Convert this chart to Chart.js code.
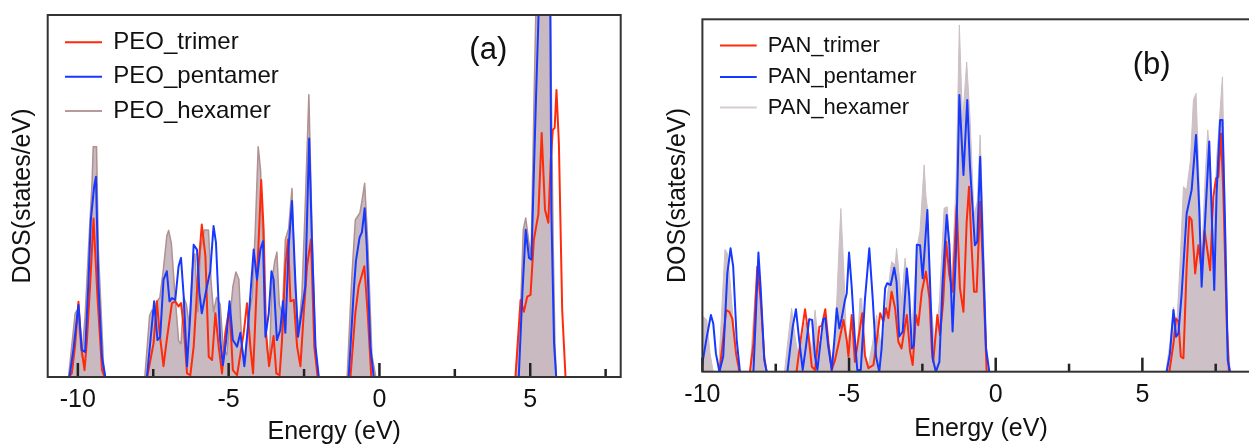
<!DOCTYPE html>
<html>
<head>
<meta charset="utf-8">
<script src="https://cdn.jsdelivr.net/npm/chart.js@4/dist/chart.umd.min.js"></script>
<style>
html,body{margin:0;padding:0;background:#fff;overflow:hidden;width:1249px;height:448px;}
#wa{position:absolute;left:0;top:0;width:640px;height:448px;}
#wb{position:absolute;left:640px;top:0;width:640px;height:448px;}
canvas{display:block;}
</style>
</head>
<body>
<div id="wa"><canvas id="ca" width="640" height="448"></canvas></div>
<div id="wb"><canvas id="cb" width="640" height="448"></canvas></div>
<script>
// ---------------- DATA: [energy (eV), DOS (arb. units)]; null = gap ----------------
const peoLabels = ['PEO_trimer', 'PEO_pentamer', 'PEO_hexamer'];
const panLabels = ['PAN_trimer', 'PAN_pentamer', 'PAN_hexamer'];
const tickLabelsEnergy = [-10, -5, 0, 5];

const peoTrimer = [
  [-10.30,0],[-10.20,1],[-10.09,8.8],[-9.98,20.8],[-9.88,8],[-9.78,1.9],[-9.70,10],[-9.59,25.9],[-9.48,43.8],[-9.35,22.2],[-9.20,2],[-9.12,0],
  [-8.5,null],
  [-7.70,0],[-7.49,9.3],[-7.38,20.9],[-7.29,12.2],[-7.16,3],[-7.05,10.4],[-6.88,20.4],[-6.77,20.9],[-6.66,19.5],[-6.58,20.4],[-6.49,13.9],[-6.38,1],[-6.27,0.5],[-6.16,8.4],[-6.00,30.6],[-5.89,42.1],[-5.77,33.3],[-5.66,5.6],[-5.55,4.7],[-5.44,17.6],[-5.33,8.4],[-5.22,1],[-5.11,12.2],[-4.97,19.5],[-4.86,1.9],[-4.72,0.5],[-4.50,12.2],[-4.39,20.4],[-4.28,8.4],[-4.19,1],[-4.06,26.9],[-3.92,54.4],[-3.84,40.6],[-3.76,12.2],[-3.66,3],[-3.51,11.3],[-3.42,1],[-3.31,0.5],[-3.23,10.2],[-3.12,30.6],[-3.03,38],[-2.95,20.9],[-2.84,21.3],[-2.73,8.4],[-2.62,3],[-2.51,17.6],[-2.40,30.6],[-2.27,38],[-2.16,8.4],[-2.05,0],
  [-1.5,null],
  [-0.96,0],[-0.80,17.6],[-0.69,25],[-0.50,30.6],[-0.39,17.6],[-0.27,0],
  [2.0,null],
  [4.51,0],[4.68,21.3],[4.79,18.0],[4.90,22.2],[5.01,22.7],[5.12,37.9],[5.27,45],[5.38,67.4],[5.49,46.2],[5.60,42.6],[5.68,60],[5.75,68.3],[5.81,68.8],[5.87,79.3],[5.95,64.6],[6.06,18.5],[6.17,0]
];

const peoPentamer = [
  [-10.28,0],[-10.15,7.5],[-9.98,19.9],[-9.87,7.5],[-9.76,6.9],[-9.65,25.9],[-9.57,43.4],[-9.46,52.6],[-9.40,55.3],[-9.32,25.9],[-9.20,5.5],[-9.09,0],
  [-8.5,null],
  [-7.71,0],[-7.47,20.9],[-7.36,10.2],[-7.27,11.1],[-7.16,26.9],[-7.05,29.2],[-6.96,20.9],[-6.88,21.8],[-6.77,21.3],[-6.66,30.6],[-6.58,32.9],[-6.49,22.3],[-6.38,3],[-6.27,17.6],[-6.16,36.5],[-6.05,35.2],[-5.97,23.3],[-5.89,17.6],[-5.72,25],[-5.61,29.2],[-5.50,41.7],[-5.42,37.1],[-5.28,10.2],[-5.19,3.3],[-5.08,10.2],[-4.97,20.9],[-4.86,10.2],[-4.72,8.4],[-4.61,12.2],[-4.48,3],[-4.34,15.8],[-4.17,35.2],[-4.06,26.9],[-3.95,35.2],[-3.86,37.5],[-3.78,11.1],[-3.67,17.6],[-3.58,29.2],[-3.51,26.9],[-3.40,10.2],[-3.29,12.9],[-3.20,20.9],[-3.12,12.2],[-3.01,36.1],[-2.90,48.6],[-2.79,26.9],[-2.70,11.1],[-2.57,18.5],[-2.46,25],[-2.33,65.9],[-2.24,38],[-2.12,8.4],[-2.01,0],
  [-1.5,null],
  [-1.02,0],[-0.85,24],[-0.78,32],[-0.66,38.5],[-0.58,40],[-0.49,46.6],[-0.42,36],[-0.30,8.4],[-0.19,0],
  [2.0,null],
  [4.62,0],[4.74,23.2],[4.85,40.7],[4.96,32.9],[5.04,32.4],[5.18,73.8],[5.32,112],[5.66,112],[5.70,46],[5.79,9.3],[5.86,0]
];

const peoHexamer = [
  [-10.31,0],[-10.09,17.6],[-10.02,18.5],[-9.87,5.5],[-9.76,16.7],[-9.65,35],[-9.53,53.5],[-9.49,63.6],[-9.38,63.6],[-9.32,35],[-9.15,3.7],[-9.09,0],
  [-8.5,null],
  [-7.78,0],[-7.62,17],[-7.54,18.5],[-7.47,17],[-7.38,20.8],[-7.28,22],[-7.16,30],[-7.05,39],[-6.99,40.5],[-6.90,37],[-6.80,25],[-6.66,10],[-6.58,9.2],[-6.49,22],[-6.40,20],[-6.30,14],[-6.20,30],[-6.12,34],[-6.02,18],[-5.94,35],[-5.81,40.6],[-5.67,40.6],[-5.58,26],[-5.50,18],[-5.40,22],[-5.28,20.1],[-5.18,8],[-5.06,6.1],[-4.97,15],[-4.86,25],[-4.76,29],[-4.66,27],[-4.56,8],[-4.45,4],[-4.34,17],[-4.22,22],[-4.12,40],[-4.02,63.6],[-3.94,57],[-3.84,30],[-3.74,8],[-3.65,4],[-3.56,27],[-3.47,32],[-3.40,34.5],[-3.32,20],[-3.22,17],[-3.12,38],[-3.01,41],[-2.90,52.1],[-2.80,25],[-2.68,13],[-2.57,23],[-2.47,45],[-2.34,78],[-2.24,42],[-2.12,8],[-2.02,0],
  [-1.5,null],
  [-1.07,0],[-0.92,27],[-0.80,43.4],[-0.65,45.3],[-0.58,48.6],[-0.49,53.5],[-0.38,36],[-0.25,6],[-0.12,0],
  [2.0,null],
  [4.51,0],[4.68,18.5],[4.77,40.7],[4.85,43.9],[4.96,37],[5.03,33.3],[5.12,73.8],[5.22,115],[5.65,115],[5.76,37],[5.82,9],[5.87,0]
];

const panTrimer = [
  [-9.42,0],[-9.31,8],[-9.19,17.5],[-9.08,17.0],[-8.98,15],[-8.85,5],[-8.74,0],
  [-8.55,null],
  [-8.38,0],[-8.26,8],[-8.13,29.8],[-8.01,20],[-7.89,4],[-7.81,0],
  [-7.3,null],
  [-6.79,0],[-6.65,9.0],[-6.50,17.7],[-6.39,10.9],[-6.27,1.4],[-6.16,0.5],[-6.01,12.8],[-5.93,13],[-5.81,17.7],[-5.70,8.1],[-5.59,0.5],[-5.48,3.3],[-5.33,9.0],[-5.19,14.7],[-5.08,9.0],[-5.02,4.3],[-4.91,16.1],[-4.80,2.8],[-4.68,9.5],[-4.55,16.6],[-4.46,4.7],[-4.34,1],[-4.17,1.9],[-4.06,8.5],[-3.94,16.6],[-3.83,14.2],[-3.74,18],[-3.66,15.2],[-3.55,22.7],[-3.43,18],[-3.32,8.5],[-3.21,6.6],[-3.09,13.2],[-3.03,16.1],[-2.92,5.7],[-2.83,1.9],[-2.72,16.1],[-2.64,13.2],[-2.52,22.7],[-2.38,28.4],[-2.26,20.8],[-2.18,6.6],[-2.13,2.8],[-1.99,16.1],[-1.90,10.4],[-1.79,19.9],[-1.69,36.9],[-1.58,27.4],[-1.47,22.7],[-1.33,47.3],[-1.22,23.7],[-1.10,17],[-0.99,42.6],[-0.91,52.5],[-0.82,35],[-0.74,22.7],[-0.65,22.7],[-0.53,48.2],[-0.44,30.3],[-0.31,0],
  [3.0,null],
  [5.92,0],[6.06,8],[6.15,15.1],[6.23,14.2],[6.31,4.3],[6.40,3.8],[6.51,29.8],[6.60,44],[6.68,43],[6.80,27.9],[6.91,35.9],[7.02,28.8],[7.12,40],[7.19,36],[7.31,28.8],[7.42,49.7],[7.51,54.9],[7.59,55.3],[7.68,67.6],[7.76,50.6],[7.88,12.8],[7.95,0]
];

const panPentamer = [
  [-10.05,0],[-9.85,9.9],[-9.71,16.1],[-9.63,13.7],[-9.54,5.2],[-9.42,0],[-9.29,4.3],[-9.15,27.9],[-9.04,35.0],[-8.95,29.8],[-8.83,9.0],[-8.72,0],
  [-8.55,null],
  [-8.26,0],[-8.17,17.5],[-8.09,33.8],[-8.01,23.2],[-7.89,3.3],[-7.81,0],
  [-7.3,null],
  [-7.10,0],[-6.92,12.8],[-6.81,17.7],[-6.70,9.0],[-6.58,0.5],[-6.47,7.1],[-6.36,14.9],[-6.26,14.7],[-6.16,4.3],[-6.08,0.5],[-5.99,7.1],[-5.88,14.9],[-5.81,15.2],[-5.71,7.1],[-5.59,0.5],[-5.51,8.1],[-5.42,18.0],[-5.33,12.3],[-5.25,15.2],[-5.14,20.3],[-5.08,22.2],[-5.00,33.8],[-4.91,24.1],[-4.80,9.0],[-4.72,0.5],[-4.60,0.5],[-4.46,20.3],[-4.31,35.0],[-4.19,20.3],[-4.08,4.3],[-3.97,0],[-3.89,6.6],[-3.77,23.7],[-3.70,25.1],[-3.58,24.6],[-3.46,29.5],[-3.38,25.5],[-3.29,10],[-3.17,11.4],[-3.03,29.3],[-2.95,21.8],[-2.86,6.6],[-2.79,7.6],[-2.69,36],[-2.58,35.9],[-2.49,26.5],[-2.33,45.9],[-2.24,25.5],[-2.15,3.8],[-2.04,0],[-1.92,2.8],[-1.81,25.5],[-1.67,44.5],[-1.58,36],[-1.47,11.4],[-1.35,35.0],[-1.24,78.5],[-1.10,55.8],[-0.97,77.1],[-0.88,58.7],[-0.71,35.9],[-0.63,36.9],[-0.53,61.0],[-0.44,35.0],[-0.33,6.6],[-0.22,0],
  [3.0,null],
  [5.83,0],[5.94,5.2],[6.06,17.5],[6.15,9.9],[6.23,10.9],[6.34,22.2],[6.51,44.9],[6.68,51.6],[6.83,67.2],[6.94,45.9],[7.02,24.1],[7.14,43],[7.28,65.3],[7.36,45.9],[7.45,23.2],[7.53,50.6],[7.65,71.4],[7.73,71.4],[7.82,41.1],[7.91,3.3],[7.99,0]
];

const panHexamer = [
  [-10.2,15.6],[-9.97,15.6],[-9.85,14.7],[-9.74,5.2],[-9.63,0],
  [-9.55,null],
  [-9.45,0],[-9.31,22.2],[-9.23,34.7],[-9.15,33.6],[-9.06,26],[-8.95,14.7],[-8.83,1.4],[-8.75,0],
  [-8.55,null],
  [-8.38,0],[-8.21,21.3],[-8.13,28.8],[-8.04,23.2],[-7.92,3.3],[-7.85,0],
  [-7.5,null],
  [-7.20,0],[-7.07,9.9],[-6.96,18],[-6.84,9.9],[-6.72,4],[-6.60,9],[-6.50,14],[-6.40,12],[-6.28,6],[-6.16,17.5],[-6.05,8.9],[-5.93,8],[-5.81,16.6],[-5.70,8],[-5.59,3],[-5.48,8],[-5.36,31.7],[-5.28,46.3],[-5.19,30.8],[-5.08,7.1],[-4.97,12],[-4.85,6.6],[-4.74,2],[-4.63,20.8],[-4.57,20.8],[-4.46,4],[-4.34,1.9],[-4.20,8],[-4.06,16.1],[-4.00,12],[-3.89,6.6],[-3.80,12],[-3.72,19.9],[-3.60,28],[-3.55,31.2],[-3.43,30.3],[-3.38,35.0],[-3.32,30],[-3.21,19.9],[-3.09,32.2],[-3.00,25],[-2.92,15],[-2.86,11.4],[-2.69,35.0],[-2.58,40],[-2.44,58.7],[-2.38,50],[-2.33,46.4],[-2.22,20.8],[-2.07,6.6],[-1.92,19.9],[-1.76,46.4],[-1.65,46.8],[-1.50,25.5],[-1.35,53.9],[-1.24,98.4],[-1.13,70.9],[-0.99,87.9],[-0.88,72.8],[-0.74,44.5],[-0.63,48.2],[-0.53,67.2],[-0.44,44.5],[-0.31,6.6],[-0.22,0],
  [3.0,null],
  [5.80,0],[5.94,8],[6.06,18.4],[6.17,13],[6.28,30],[6.40,52.5],[6.51,51.6],[6.64,60.1],[6.74,77.1],[6.83,79],[6.91,60.1],[7.02,31.7],[7.14,55.3],[7.23,68.6],[7.31,60.1],[7.42,36.4],[7.53,60.1],[7.65,74.3],[7.73,83.7],[7.82,46],[7.91,12.8],[7.99,0]
];
// -------------------------------------------------------------------------------------

const FONT = '"Liberation Sans", Arial, Helvetica, sans-serif';
Chart.defaults.font.family = FONT;
Chart.defaults.color = '#111';

const RED = '#ff2a0a';
const BLUE = '#1638ff';

const toPts = arr => arr.map(p => ({x: p[0], y: p[1]}));

const deco = {
  id: 'deco',
  afterDraw(chart, args, o) {
    const ctx = chart.ctx, a = chart.chartArea, xs = chart.scales.x;
    ctx.save();
    // inward tick marks
    ctx.strokeStyle = '#222';
    ctx.lineWidth = 2.5;
    xs.ticks.forEach(t => {
      const v = t.value;
      if (Math.abs(v / 2.5 - Math.round(v / 2.5)) > 1e-6) return;
      const px = xs.getPixelForValue(v);
      if (px < a.left - 0.5 || px > a.right + 0.5) return;
      const major = Math.abs(v / 5 - Math.round(v / 5)) < 1e-6;
      ctx.beginPath();
      ctx.moveTo(px, a.bottom);
      ctx.lineTo(px, a.bottom - (major ? 14 : 8));
      ctx.stroke();
    });
    // frame
    ctx.lineWidth = 2;
    ctx.strokeStyle = '#333';
    ctx.strokeRect(a.left, a.top, a.right - a.left, a.bottom - a.top);
    // legend
    ctx.font = o.legendFont + 'px ' + FONT;
    ctx.textBaseline = 'middle';
    ctx.textAlign = 'left';
    o.labels.forEach((lab, i) => {
      const y = o.legendY[i];
      ctx.strokeStyle = o.legendColors[i];
      ctx.lineWidth = 2;
      ctx.beginPath();
      ctx.moveTo(o.lineX0, y);
      ctx.lineTo(o.lineX1, y);
      ctx.stroke();
      ctx.fillStyle = '#111';
      ctx.fillText(lab, o.textX, y);
    });
    // panel tag
    ctx.font = o.tagFont + 'px ' + FONT;
    ctx.textAlign = 'center';
    ctx.textBaseline = 'alphabetic';
    ctx.fillText(o.tag, o.tagX, o.tagY);
    ctx.restore();
  }
};

function makeChart(id, cfg) {
  return new Chart(document.getElementById(id), {
    type: 'line',
    data: {
      datasets: [
        {label: cfg.labels[0], data: toPts(cfg.trimer), borderColor: RED, borderWidth: 2, pointRadius: 0, fill: false, order: 2, spanGaps: false},
        {label: cfg.labels[1], data: toPts(cfg.pentamer), borderColor: BLUE, borderWidth: 2, pointRadius: 0, fill: false, order: 1, spanGaps: false},
        {label: cfg.labels[2], data: toPts(cfg.hexamer), borderColor: cfg.hexEdge, backgroundColor: cfg.hexFill, borderWidth: cfg.hexEdgeW, pointRadius: 0, fill: 'origin', order: 3, spanGaps: false}
      ]
    },
    options: {
      responsive: false,
      animation: false,
      devicePixelRatio: 1,
      events: [],
      layout: {padding: cfg.padding},
      elements: {line: {tension: 0, borderJoinStyle: 'round'}},
      plugins: {
        legend: {display: false},
        tooltip: {enabled: false},
        deco: cfg.deco
      },
      scales: {
        x: {
          type: 'linear',
          min: cfg.xmin, max: cfg.xmax,
          grid: {display: false, drawTicks: false},
          border: {display: false},
          ticks: {
            stepSize: 2.5,
            includeBounds: false,
            autoSkip: false,
            maxRotation: 0,
            padding: cfg.tickPad,
            color: '#111',
            font: {size: 25, family: FONT},
            callback: v => tickLabelsEnergy.includes(v) ? String(v) : ''
          },
          title: {display: true, text: 'Energy (eV)', color: '#111', font: {size: 25, family: FONT}, padding: {top: 0, bottom: cfg.xTitlePad}},
          afterFit: s => { s.height = cfg.xHeight; }
        },
        y: {
          min: 0, max: 100,
          grid: {display: false, drawTicks: false},
          border: {display: false},
          ticks: {display: false},
          title: {display: true, text: 'DOS(states/eV)', color: '#111', font: {size: 25, family: FONT}, padding: {top: cfg.yTitlePad, bottom: 0}},
          afterFit: s => { s.width = cfg.yWidth; }
        }
      }
    },
    plugins: [deco]
  });
}

makeChart('ca', {
  labels: peoLabels,
  trimer: peoTrimer, pentamer: peoPentamer, hexamer: peoHexamer,
  hexEdge: '#b09090', hexFill: '#c9b9c1', hexEdgeW: 1.5,
  padding: {left: 0, top: 15, right: 19.3, bottom: 0},
  xmin: -11, xmax: 8,
  tickPad: 8.6, xTitlePad: 1, xHeight: 71,
  yTitlePad: 8.3, yWidth: 47.7,
  deco: {
    labels: peoLabels,
    legendColors: [RED, BLUE, '#b99a9a'],
    legendFont: 24, legendY: [42.3, 76.7, 111],
    lineX0: 65, lineX1: 102, textX: 113.3,
    tag: '(a)', tagFont: 31, tagX: 488.3, tagY: 58.5
  }
});

makeChart('cb', {
  labels: panLabels,
  trimer: panTrimer, pentamer: panPentamer, hexamer: panHexamer,
  hexEdge: '#cbbfc5', hexFill: '#cdc1c7', hexEdgeW: 1,
  padding: {left: 0, top: 19.3, right: 20.3, bottom: 0},
  xmin: -10, xmax: 9,
  tickPad: 8, xTitlePad: 3.5, xHeight: 76.3,
  yTitlePad: 23, yWidth: 62.4,
  deco: {
    labels: panLabels,
    legendColors: [RED, BLUE, '#d6cbd0'],
    legendFont: 22, legendY: [45.5, 77, 107.5],
    lineX0: 80, lineX1: 116.7, textX: 127.7,
    tag: '(b)', tagFont: 31, tagX: 511.7, tagY: 73.5
  }
});
</script>
</body>
</html>
